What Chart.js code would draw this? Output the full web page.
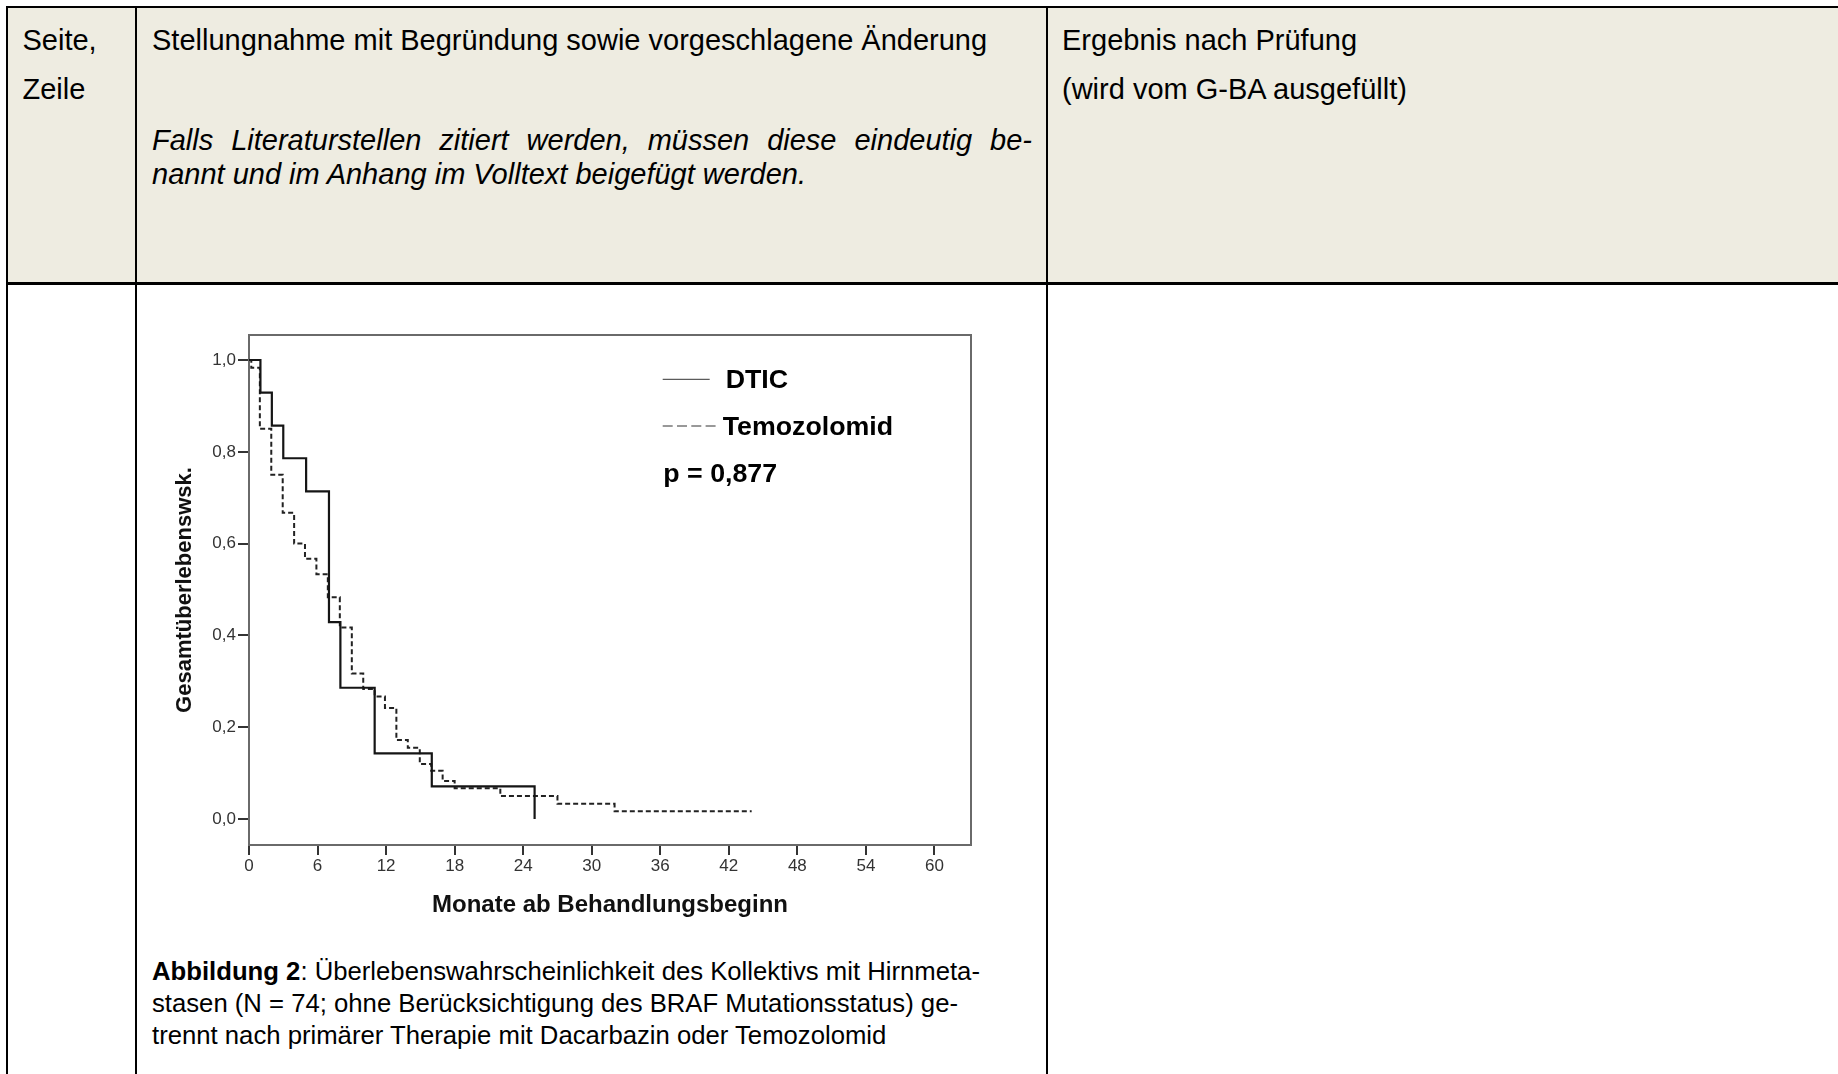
<!DOCTYPE html>
<html lang="de">
<head>
<meta charset="utf-8">
<title>Gesamtüberleben DTIC vs. Temozolomid</title>
<script src="https://cdn.jsdelivr.net/npm/chart.js"></script>
<style>
  html, body { margin: 0; padding: 0; background: #ffffff; }
  body { width: 1838px; height: 1074px; position: relative; overflow: hidden;
         font-family: "Liberation Sans", Arial, sans-serif; color: #000; }
  .abs { position: absolute; white-space: nowrap; line-height: normal; }
  .hdr { font-size: 29px; }
  .cap { font-size: 25.7px; }
  .line { position: absolute; background: #000; }
  #headerBg { position: absolute; left: 8px; top: 8px; width: 1830px; height: 274px; background: #EEECE1; }
  #chartBox { position: absolute; left: 140px; top: 300px; width: 860px; height: 640px; }
</style>
</head>
<body>
<div id="headerBg"></div>

<!-- table rules -->
<div class="line" style="left:6px; top:6px; width:1832px; height:2px;"></div>
<div class="line" style="left:6px; top:6px; width:2px; height:1068px;"></div>
<div class="line" style="left:135px; top:6px; width:2px; height:1068px;"></div>
<div class="line" style="left:1046px; top:6px; width:2px; height:1068px;"></div>
<div class="line" style="left:6px; top:282px; width:1832px; height:3px;"></div>

<!-- header row -->
<div class="abs hdr" style="left:22.5px; top:23.8px;">Seite,</div>
<div class="abs hdr" style="left:22.5px; top:72.8px;">Zeile</div>
<div class="abs hdr" style="left:152px; top:23.8px;">Stellungnahme mit Begründung sowie vorgeschlagene Änderung</div>
<div class="abs hdr" style="left:152px; top:124.3px; width:880px; font-style:italic; text-align:justify; text-align-last:justify; white-space:normal;">Falls Literaturstellen zitiert werden, müssen diese eindeutig be-</div>
<div class="abs hdr" style="left:152px; top:157.8px; font-style:italic;">nannt und im Anhang im Volltext beigefügt werden.</div>
<div class="abs hdr" style="left:1062px; top:23.8px;">Ergebnis nach Prüfung</div>
<div class="abs hdr" style="left:1062px; top:72.8px;">(wird vom G-BA ausgefüllt)</div>

<!-- chart -->
<div id="chartBox"><canvas id="km" width="860" height="640"></canvas></div>

<!-- caption -->
<div class="abs cap" style="left:152px; top:956.7px;"><b>Abbildung 2</b>: Überlebenswahrscheinlichkeit des Kollektivs mit Hirnmeta-</div>
<div class="abs cap" style="left:152px; top:988.7px;">stasen (N = 74; ohne Berücksichtigung des BRAF Mutationsstatus) ge-</div>
<div class="abs cap" style="left:152px; top:1020.7px;">trennt nach primärer Therapie mit Dacarbazin oder Temozolomid</div>

<script>
// Kaplan-Meier step points: month of each event and survival after it
const dticMonths   = [0, 1, 2, 3, 5, 7, 8, 11, 16, 25];
const dticSurvival = [1.0, 0.929, 0.857, 0.786, 0.714, 0.429, 0.286, 0.143, 0.071, 0.0];

const temoMonths   = [0, 0.2, 0.95, 1.95, 2.95, 3.95, 4.9, 5.9, 6.9, 7.95, 9, 10, 11, 11.9, 12.9, 13.9, 14.95, 15.95, 16.95, 18, 22, 27, 32, 44];
const temoSurvival = [1.0, 0.983, 0.85, 0.75, 0.667, 0.6, 0.567, 0.533, 0.483, 0.417, 0.317, 0.283, 0.267, 0.242, 0.172, 0.155, 0.12, 0.105, 0.083, 0.067, 0.05, 0.033, 0.017, 0.017];

const seriesNames = ['DTIC', 'Temozolomid'];
const pValueText = 'p = 0,877';

// axis ticks
const xTickValues = [0, 6, 12, 18, 24, 30, 36, 42, 48, 54, 60];
const xTickLabels = ['0', '6', '12', '18', '24', '30', '36', '42', '48', '54', '60'];
const yTickValues = [0, 0.2, 0.4, 0.6, 0.8, 1.0];
const yTickLabels = ['0,0', '0,2', '0,4', '0,6', '0,8', '1,0'];

const toPoints = (xs, ys) => xs.map((x, i) => ({ x: x, y: ys[i] }));

// frame around the plotting area (top and right sides of the box)
const frameBox = {
  id: 'frameBox',
  beforeDatasetsDraw(chart) {
    const a = chart.chartArea, ctx = chart.ctx;
    ctx.save();
    ctx.strokeStyle = '#6a6a6a';
    ctx.lineWidth = 2;
    ctx.strokeRect(a.left, a.top, a.right - a.left, a.bottom - a.top);
    ctx.restore();
  }
};

// legend block inside the plot with the p value underneath
const innerLegend = {
  id: 'innerLegend',
  afterDraw(chart, args, opts) {
    const ctx = chart.ctx, a = chart.chartArea;
    const x0 = a.left + opts.dx, y0 = a.top + opts.dy;
    const wideText = (txt, x, y) => {
      ctx.save();
      ctx.translate(x, y);
      ctx.scale(opts.stretch, 1);
      ctx.fillText(txt, 0, 0);
      ctx.restore();
    };
    ctx.save();
    ctx.font = 'bold 25px "Liberation Sans", Arial, sans-serif';
    ctx.fillStyle = '#000';
    ctx.textBaseline = 'alphabetic';
    ctx.textAlign = 'left';
    chart.data.datasets.forEach((ds, i) => {
      const ly = y0 + i * opts.rowGap;
      ctx.strokeStyle = '#333';
      ctx.lineWidth = 1;
      ctx.setLineDash(ds.borderDash && ds.borderDash.length ? [10, 4.3] : []);
      ctx.beginPath();
      ctx.moveTo(x0, ly);
      ctx.lineTo(x0 + (i === 0 ? 47 : 57), ly);
      ctx.stroke();
      ctx.setLineDash([]);
      wideText(ds.label, x0 + (i === 0 ? 63 : 60), ly + 9);
    });
    wideText(pValueText, x0 + 0.6, y0 + 2 * opts.rowGap + 9.3);
    ctx.restore();
  }
};

const tickFont = { family: '"Liberation Sans", Arial, sans-serif', size: 17 };

new Chart(document.getElementById('km'), {
  type: 'line',
  data: {
    datasets: [
      {
        label: seriesNames[0],
        data: toPoints(dticMonths, dticSurvival),
        stepped: true,
        borderColor: '#151515',
        borderWidth: 2.2,
        pointRadius: 0,
        fill: false
      },
      {
        label: seriesNames[1],
        data: toPoints(temoMonths, temoSurvival),
        stepped: true,
        borderColor: '#222222',
        borderWidth: 2,
        borderDash: [5, 3],
        pointRadius: 0,
        fill: false
      }
    ]
  },
  options: {
    responsive: false,
    animation: false,
    devicePixelRatio: 1,
    layout: { padding: { top: 35, right: 29, left: 0, bottom: 0 } },
    plugins: {
      legend: { display: false },
      tooltip: { enabled: false },
      innerLegend: { dx: 413.7, dy: 44.3, rowGap: 46.7, stretch: 1.07 }
    },
    scales: {
      x: {
        type: 'linear',
        min: 0,
        max: 63.2,
        afterBuildTicks: s => { s.ticks = xTickValues.map(v => ({ value: v })); },
        afterFit: s => { s.height = 95; },
        grid: { display: true, drawOnChartArea: false, drawTicks: true, tickLength: 10, color: '#333', lineWidth: 2 },
        border: { display: true, color: '#333', width: 2 },
        ticks: {
          font: tickFont, color: '#333', padding: 1.5, maxRotation: 0, autoSkip: false,
          callback: (v, i) => xTickLabels[i]
        },
        title: {
          display: true, text: 'Monate ab Behandlungsbeginn', color: '#111',
          font: { family: '"Liberation Sans", Arial, sans-serif', size: 24, weight: 'bold' },
          padding: { top: 0, bottom: 20.6 }
        }
      },
      y: {
        type: 'linear',
        min: -0.0566,
        max: 1.0545,
        afterBuildTicks: s => { s.ticks = yTickValues.map(v => ({ value: v })); },
        afterFit: s => { s.width = 109; },
        grid: { display: true, drawOnChartArea: false, drawTicks: true, tickLength: 11, color: '#333', lineWidth: 2 },
        border: { display: true, color: '#333', width: 2 },
        ticks: {
          font: tickFont, color: '#333', padding: 2, autoSkip: false,
          callback: (v, i) => yTickLabels[i]
        },
        title: {
          display: true, text: 'Gesamtüberlebenswsk.', color: '#111',
          font: { family: '"Liberation Sans", Arial, sans-serif', size: 22, weight: 'bold' },
          padding: { top: 31.8, bottom: 0 }
        }
      }
    }
  },
  plugins: [frameBox, innerLegend]
});
</script>
</body>
</html>
